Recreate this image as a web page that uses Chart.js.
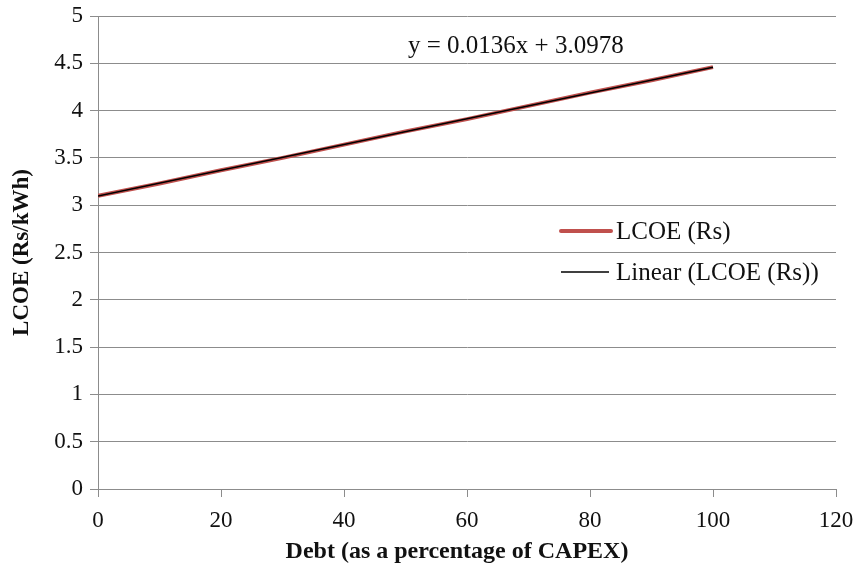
<!DOCTYPE html>
<html>
<head>
<meta charset="utf-8">
<script src="https://cdn.jsdelivr.net/npm/chart.js@4/dist/chart.umd.min.js"></script>
<style>
  html, body { margin: 0; padding: 0; background: #fff; }
  #wrap { width: 858px; height: 572px; }
</style>
</head>
<body>
<div id="wrap"><canvas id="c" width="858" height="572"></canvas></div>
<script>
// Debt share of CAPEX (%) and the resulting levelised cost of energy
const debtPct = [0, 10, 20, 30, 40, 50, 60, 70, 80, 90, 100];
const lcoeRs  = [3.10, 3.23, 3.37, 3.50, 3.64, 3.78, 3.91, 4.05, 4.19, 4.32, 4.46];

// Linear trendline as stated in its equation label
const trendSlope = 0.0136;
const trendIntercept = 3.0978;
const trendRange = [0, 100];

const xTicks = [0, 20, 40, 60, 80, 100, 120];
const yTicks = [0, 0.5, 1, 1.5, 2, 2.5, 3, 3.5, 4, 4.5, 5];
const xTitle = 'Debt (as a percentage of CAPEX)';
const yTitle = 'LCOE (Rs/kWh)';

const serif = "'Liberation Serif', 'Times New Roman', serif";
const gridColor = '#8c8c8c';
const textColor = '#111';

const lcoePoints = debtPct.map((x, i) => ({ x: x, y: lcoeRs[i] }));
const trendPoints = trendRange.map(x => ({ x: x, y: trendSlope * x + trendIntercept }));

const fmtNum = v => (Math.round(v * 10000) / 10000).toString();

// equation label, x-axis title and in-plot legend
const overlay = {
  id: 'overlay',
  afterDatasetsDraw(chart) {
    const ctx = chart.ctx;
    const a = chart.chartArea;
    ctx.save();
    ctx.fillStyle = textColor;
    ctx.textBaseline = 'middle';

    ctx.textAlign = 'center';
    ctx.font = 'bold 24px ' + serif;
    ctx.fillText(xTitle, a.left + 359, a.bottom + 63);

    ctx.textAlign = 'left';
    ctx.font = '25px ' + serif;
    ctx.fillText('y = ' + fmtNum(trendSlope) + 'x + ' + fmtNum(trendIntercept), a.left + 310, a.top + 30);

    const lx = a.left + 462;
    const ly = a.top + 215;
    chart.data.datasets.forEach((ds, i) => {
      const yy = ly + i * 41;
      ctx.beginPath();
      ctx.strokeStyle = ds.borderColor;
      ctx.lineWidth = ds.borderWidth;
      ctx.lineCap = i === 0 ? 'round' : 'butt';
      ctx.moveTo(lx + 1, yy);
      ctx.lineTo(lx + (i === 0 ? 51 : 49), yy);
      ctx.stroke();
      ctx.fillText(ds.label, lx + 56, yy + 1);
    });
    ctx.restore();
  }
};

new Chart(document.getElementById('c'), {
  type: 'scatter',
  data: {
    datasets: [
      {
        label: 'LCOE (Rs)',
        data: lcoePoints,
        showLine: true,
        borderColor: '#c0504d',
        borderWidth: 4,
        pointRadius: 0,
        order: 2
      },
      {
        label: 'Linear (LCOE (Rs))',
        data: trendPoints,
        showLine: true,
        borderColor: '#000000',
        borderWidth: 1.5,
        pointRadius: 0,
        order: 1
      }
    ]
  },
  options: {
    responsive: false,
    animation: false,
    events: [],
    layout: { padding: { left: 0, top: 16, right: 22, bottom: 0 } },
    plugins: {
      legend: { display: false },
      tooltip: { enabled: false }
    },
    scales: {
      x: {
        type: 'linear',
        min: 0, max: 120,
        afterBuildTicks(s) { s.ticks = xTicks.map(v => ({ value: v })); },
        afterFit(s) { s.height = 83; s.paddingLeft = 0; s.paddingRight = 0; },
        grid: { drawOnChartArea: false, color: gridColor, tickLength: 8, tickColor: gridColor },
        border: { color: gridColor, width: 1 },
        ticks: { color: textColor, font: { family: serif, size: 23 }, padding: 10, maxRotation: 0 },
        title: { display: false }
      },
      y: {
        type: 'linear',
        min: 0, max: 5,
        afterBuildTicks(s) { s.ticks = yTicks.map(v => ({ value: v })); },
        afterFit(s) { s.width = 98; s.paddingTop = 0; s.paddingBottom = 0; },
        grid: { color: gridColor, tickLength: 8, tickColor: gridColor },
        border: { color: gridColor, width: 1 },
        ticks: {
          color: textColor,
          font: { family: serif, size: 23 },
          padding: 7,
          callback: v => String(v)
        },
        title: {
          display: true,
          text: yTitle,
          color: textColor,
          font: { family: serif, size: 23, weight: 'bold' },
          padding: { top: 8, bottom: 0 }
        }
      }
    }
  },
  plugins: [overlay]
});
</script>
</body>
</html>
